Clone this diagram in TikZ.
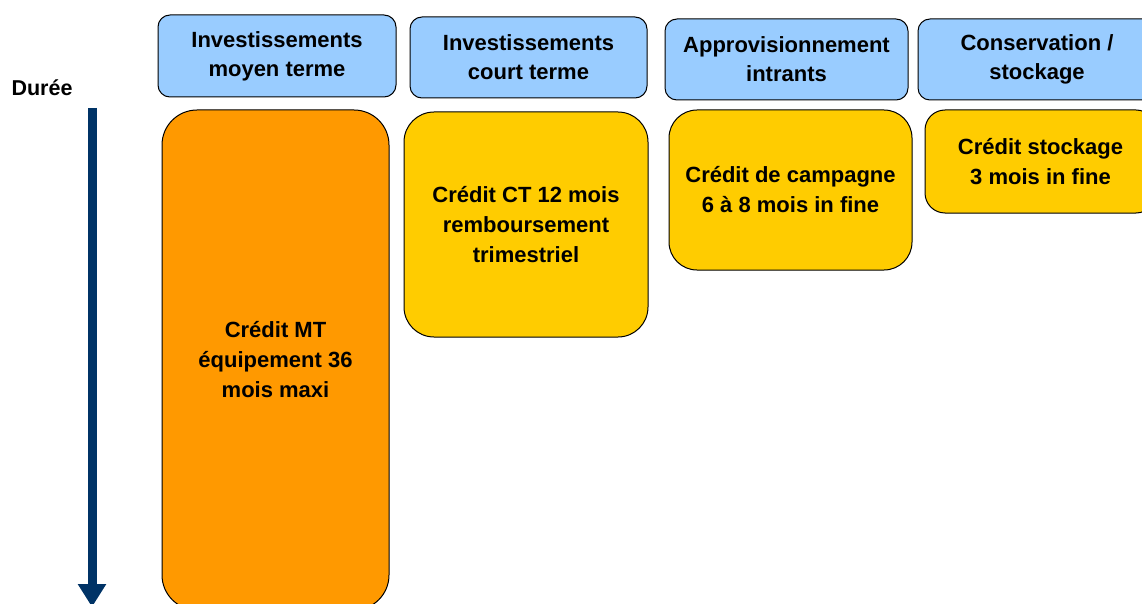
\documentclass[tikz,border=0pt]{standalone}
\usepackage{fontspec}
\setmainfont{Liberation Sans}
\usetikzlibrary{arrows.meta}
\definecolor{hdr}{HTML}{99CCFF}
\definecolor{orng}{HTML}{FF9900}
\definecolor{ylw}{HTML}{FFCC00}
\definecolor{navy}{HTML}{003366}
\begin{document}
\begin{tikzpicture}[x=1pt,y=-1pt,
  hdrbox/.style={draw=black, line width=1pt, fill=hdr, rounded corners=12pt,
    align=center, inner sep=0pt, font=\bfseries\fontsize{22}{29}\selectfont},
  credbox/.style={draw=black, line width=1pt, rounded corners=#1,
    align=center, inner sep=0pt, font=\bfseries\fontsize{22}{30}\selectfont},
  durlbl/.style={font=\bfseries\fontsize{21.5}{26}\selectfont, inner sep=0pt}]
\useasboundingbox (0,0) rectangle (1142,604);
\clip (0,0) rectangle (1142,604);

\node[hdrbox, minimum width=238pt, minimum height=82pt] (h1) at (277,56) {Investissements\\moyen terme};
\node[hdrbox, minimum width=237pt, minimum height=81pt] (h2) at (528.5,57.5) {Investissements\\court terme};
\node[hdrbox, minimum width=243pt, minimum height=81pt] (h3) at (786.5,59.5) {Approvisionnement\\intrants};
\node[hdrbox, minimum width=238pt, minimum height=81pt] (h4) at (1037,59.5) {Conservation /\\stockage};

\node[credbox=35pt, fill=orng, minimum width=227pt, minimum height=500pt] (c1) at (275.5,360) {Crédit MT\\équipement 36\\mois maxi};
\node[credbox=30pt, fill=ylw, minimum width=244pt, minimum height=225pt] (c2) at (526,224.5) {Crédit CT 12 mois\\remboursement\\trimestriel};
\node[credbox=28pt, fill=ylw, minimum width=243pt, minimum height=160pt] (c3) at (790.5,190) {Crédit de campagne\\6 à 8 mois in fine};
\node[credbox=20pt, fill=ylw, minimum width=231pt, minimum height=103pt] (c4) at (1040.5,161.5) {Crédit stockage\\3 mois in fine};

\node[durlbl] (dur) at (42,88) {Durée};
\coordinate (a0) at (92,108);
\coordinate (a1) at (92,607);
\draw[navy, line width=9pt, -{Triangle[width=27pt,length=23pt]}] (a0) -- (a1);
\end{tikzpicture}
\end{document}
